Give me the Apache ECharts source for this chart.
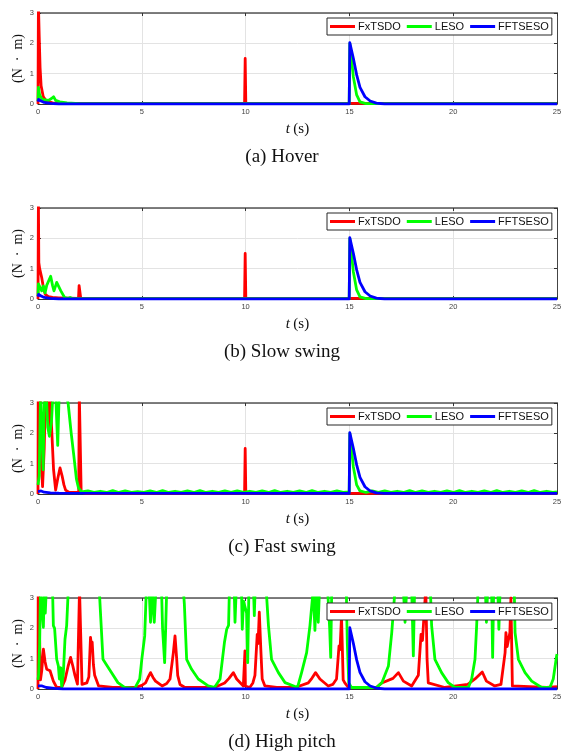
<!DOCTYPE html>
<html>
<head>
<meta charset="utf-8">
<script src="https://cdn.jsdelivr.net/npm/echarts@6/dist/echarts.min.js"></script>
<style>
html,body{margin:0;padding:0;background:#fff;}
#chart{width:564px;height:752px;}
</style>
</head>
<body>
<div id="chart"></div>
<script>
// ---------------- data ----------------
const seriesNames = ['FxTSDO', 'LESO', 'FFTSESO'];
const panelCaptions = ['(a) Hover', '(b) Slow swing', '(c) Fast swing', '(d) High pitch'];
const xLabelName = 't (s)';
const yLabelName = '(N · m)';
const xRange = [0, 25];
const yRange = [0, 3];

// (a) Hover
const hoverFx = [[0,0],[0.02,3.3],[0.06,2.2],[0.1,1.2],[0.15,0.6],[0.25,0.25],[0.4,0.1],[0.7,0.04],[1.2,0.02],[1.98,0.02],[2.0,0.05],[2.04,0.02],[2.66,0.02],[2.68,0.05],[2.72,0.02],[9.95,0.02],[9.98,1.5],[10.01,0.02],[25,0.02]];
const hoverLeso = [[0,0.1],[0.02,0.55],[0.08,0.3],[0.2,0.15],[0.5,0.12],[0.65,0.18],[0.75,0.24],[0.85,0.12],[1.05,0.07],[1.4,0.04],[2,0.01],[14.99,0.01],[15.02,2.0],[15.19,0.9],[15.35,0.3],[15.51,0.07],[15.8,0.01],[25,0.01]];
const hoverFf = [[0,0.08],[0.03,0.15],[0.15,0.1],[0.3,0.05],[0.6,0.02],[1.0,0],[14.99,0],[15.02,2.02],[15.19,1.51],[15.35,0.96],[15.51,0.55],[15.75,0.24],[16.0,0.1],[16.3,0.03],[16.7,0],[25,0]];

// (b) Slow swing
const slowFx = [[0,0],[0.02,3.3],[0.04,1.2],[0.08,1.0],[0.18,0.7],[0.26,0.38],[0.35,0.15],[0.5,0.08],[0.7,0.05],[1.0,0.04],[1.95,0.02],[1.98,0.44],[2.03,0.44],[2.06,0.02],[9.95,0.02],[9.98,1.5],[10.01,0.02],[25,0.02]];
const slowLeso = [[0,0.1],[0.02,0.5],[0.1,0.55],[0.18,0.27],[0.26,0.43],[0.34,0.2],[0.42,0.45],[0.5,0.5],[0.61,0.75],[0.7,0.45],[0.77,0.27],[0.9,0.55],[1.1,0.27],[1.28,0.05],[1.45,0.02],[1.55,0.05],[1.7,0.01],[14.99,0.01],[15.02,2.0],[15.19,0.9],[15.35,0.3],[15.51,0.07],[15.8,0.01],[25,0.01]];
const slowFf = [[0,0.08],[0.03,0.15],[0.15,0.1],[0.3,0.05],[0.6,0.02],[1.0,0],[14.99,0],[15.02,2.02],[15.19,1.51],[15.35,0.96],[15.51,0.55],[15.75,0.24],[16.0,0.1],[16.3,0.03],[16.7,0],[25,0]];

// (c) Fast swing
const fastFx = [[0,0],[0.01,3.3],[0.03,1.0],[0.1,3.3],[0.16,1.0],[0.22,0.24],[0.3,1.5],[0.36,3.3],[0.48,3.3],[0.55,2.0],[0.58,3.3],[0.66,3.3],[0.75,0.8],[0.85,0.13],[0.95,0.5],[1.06,0.86],[1.16,0.6],[1.25,0.3],[1.33,0.13],[1.5,0.05],[1.96,0.05],[1.99,3.3],[2.05,3.3],[2.08,0.05],[2.3,0.02],[9.95,0.02],[9.98,1.5],[10.01,0.02],[25,0.02]];
const fastLeso = [[0,0.3],[0.06,0.6],[0.12,3.3],[0.2,3.3],[0.25,0.8],[0.3,3.3],[0.4,3.3],[0.47,2.2],[0.55,1.9],[0.65,2.4],[0.72,3.3],[0.85,3.3],[0.95,1.6],[1.02,3.3],[1.35,3.3],[1.45,3.0],[1.6,2.0],[1.72,1.3],[1.85,0.5],[1.95,0.2],[2.1,0.07],
  [2.4,0.1],[2.7,0.05],[3.0,0.09],[3.3,0.05],[3.6,0.11],[3.9,0.05],[4.2,0.1],[4.5,0.05],[4.8,0.08],[5.1,0.05],[5.4,0.1],[5.7,0.05],[6.0,0.11],[6.3,0.05],[6.6,0.09],[6.9,0.05],[7.2,0.1],[7.5,0.05],[7.8,0.11],[8.1,0.05],[8.4,0.09],[8.7,0.05],[9.0,0.1],[9.3,0.05],[9.6,0.1],[9.9,0.05],[10.2,0.09],[10.5,0.05],[10.8,0.1],[11.1,0.05],[11.4,0.11],[11.7,0.05],[12.0,0.09],[12.3,0.05],[12.6,0.1],[12.9,0.05],[13.2,0.11],[13.5,0.05],[13.8,0.09],[14.1,0.05],[14.4,0.1],[14.7,0.05],[14.99,0.07],
  [15.02,2.0],[15.19,0.9],[15.35,0.3],[15.51,0.1],[15.8,0.05],[16.1,0.1],[16.4,0.05],[16.7,0.1],[17.0,0.05],[17.3,0.09],[17.6,0.05],[17.9,0.11],[18.2,0.05],[18.5,0.1],[18.8,0.05],[19.1,0.09],[19.4,0.05],[19.7,0.1],[20.0,0.05],[20.3,0.11],[20.6,0.05],[20.9,0.09],[21.2,0.05],[21.5,0.1],[21.8,0.05],[22.1,0.11],[22.4,0.05],[22.7,0.09],[23.0,0.05],[23.3,0.1],[23.6,0.05],[23.9,0.11],[24.2,0.05],[24.5,0.09],[24.8,0.05],[25,0.07]];
const fastFf = [[0,0.08],[0.03,0.14],[0.15,0.1],[0.3,0.06],[0.6,0.04],[1.0,0.03],[14.99,0.02],[15.02,2.02],[15.19,1.51],[15.35,0.96],[15.51,0.55],[15.75,0.24],[16.0,0.1],[16.3,0.04],[16.7,0.02],[25,0.02]];

// (d) High pitch
const pitchFx = [[0,0],[0.01,3.3],[0.05,3.3],[0.08,1.6],[0.12,0.3],[0.18,0.6],[0.26,1.31],[0.34,0.9],[0.42,0.65],[0.58,0.6],[0.74,0.26],[0.9,0.05],[1.14,0.05],[1.3,0.3],[1.45,0.75],[1.57,1.04],[1.68,0.75],[1.78,0.45],[1.9,0.16],[1.97,0.2],[2.0,3.3],[2.08,3.3],[2.12,0.15],[2.2,0.1],[2.35,0.2],[2.45,0.4],[2.53,1.7],[2.57,1.45],[2.61,1.55],[2.67,0.8],[2.73,0.45],[2.92,0.1],[3.6,0.05],[4.7,0.05],[5.0,0.12],[5.18,0.2],[5.3,0.38],[5.42,0.54],[5.54,0.38],[5.66,0.26],[5.98,0.1],[6.2,0.18],[6.36,0.33],[6.52,1.2],[6.6,1.75],[6.64,1.8],[6.68,1.0],[6.73,0.45],[6.84,0.15],[7.08,0.05],[8.5,0.05],[8.99,0.2],[9.2,0.35],[9.41,0.54],[9.57,0.33],[9.89,0.1],[9.95,0.1],[9.97,1.26],[9.99,0.1],[10.2,0.05],[10.35,0.2],[10.45,0.45],[10.56,1.8],[10.6,1.5],[10.66,2.53],[10.74,1.2],[10.8,0.33],[10.93,0.1],[11.5,0.05],[12.4,0.05],[13.02,0.2],[13.2,0.36],[13.37,0.54],[13.58,0.33],[13.98,0.1],[14.2,0.15],[14.38,0.33],[14.5,1.42],[14.55,1.3],[14.62,2.4],[14.7,0.3],[14.78,0.2],[14.95,0.05],[16.3,0.05],[16.56,0.2],[17.1,0.35],[17.36,0.54],[17.6,0.26],[18.0,0.1],[18.32,0.45],[18.45,1.8],[18.52,1.6],[18.6,2.5],[18.68,3.3],[18.74,1.0],[18.8,0.2],[19.6,0.05],[20.7,0.15],[21.05,0.33],[21.4,0.56],[21.6,0.26],[22.0,0.1],[22.3,0.15],[22.5,1.2],[22.54,1.86],[22.6,1.4],[22.73,1.86],[22.78,3.0],[22.85,0.1],[24.5,0.05],[25,0.08]];
const pitchLeso = [[0,0.3],[0.03,0.48],[0.08,1.5],[0.12,3.3],[0.2,3.3],[0.26,2.03],[0.3,3.3],[0.35,2.5],[0.4,3.3],[0.7,3.3],[0.74,2.09],[0.8,2.0],[0.9,0.98],[0.98,0.76],[1.03,0.33],[1.1,0.7],[1.14,0.05],[1.22,0.5],[1.3,1.64],[1.38,2.09],[1.46,3.3],[2.95,3.3],[3.0,2.64],[3.13,0.98],[3.29,0.81],[3.53,0.55],[3.85,0.21],[4.17,0.05],[4.66,0.02],[4.9,0.33],[5.0,0.98],[5.14,1.75],[5.22,3.3],[5.35,3.3],[5.42,2.2],[5.5,3.3],[5.6,2.2],[5.68,3.3],[5.95,3.3],[6.0,2.0],[6.05,2.0],[6.1,0.87],[6.15,2.0],[6.2,3.3],[7.0,3.3],[7.05,2.8],[7.16,0.98],[7.4,0.65],[7.72,0.33],[8.2,0.1],[8.5,0.05],[8.77,0.33],[8.98,1.53],[9.09,1.97],[9.18,2.1],[9.22,3.3],[9.45,3.3],[9.49,2.2],[9.55,3.3],[9.8,3.3],[9.84,1.97],[9.9,2.9],[10.05,2.5],[10.1,0.87],[10.16,3.3],[10.38,3.3],[10.42,2.42],[10.46,3.3],[10.99,3.3],[11.1,2.1],[11.25,0.98],[11.58,0.54],[11.9,0.21],[12.5,0.05],[12.7,0.55],[12.94,1.2],[13.1,2.09],[13.26,3.3],[13.3,3.3],[13.34,1.93],[13.4,3.3],[13.45,3.3],[13.5,2.2],[13.56,3.3],[13.95,3.3],[14.05,2.0],[14.1,1.04],[14.15,3.3],[14.85,3.3],[14.9,1.5],[14.97,0.2],[15.1,0.05],[16.3,0.05],[16.56,0.2],[16.88,0.76],[17.04,1.86],[17.2,3.3],[17.6,3.3],[17.68,2.2],[17.76,3.3],[18.0,3.3],[18.08,1.09],[18.14,3.3],[18.9,3.3],[18.96,2.1],[19.12,0.98],[19.44,0.54],[19.76,0.21],[20.08,0.05],[20.73,0.05],[20.89,0.33],[21.05,0.98],[21.13,2.09],[21.2,3.3],[21.55,3.3],[21.6,2.2],[21.66,3.3],[21.85,3.3],[21.9,1.04],[21.95,3.3],[22.15,3.3],[22.2,1.97],[22.26,3.3],[22.94,3.3],[22.98,1.86],[23.14,0.98],[23.46,0.54],[23.78,0.26],[24.26,0.05],[24.66,0.05],[24.82,0.33],[24.98,1.09],[25,1.15]];
const pitchFf = [[0,0.1],[0.03,0.15],[0.2,0.1],[0.4,0.05],[0.8,0.02],[1.2,0],[14.99,0],[15.02,2.02],[15.19,1.51],[15.35,0.96],[15.51,0.55],[15.75,0.24],[16.0,0.1],[16.3,0.03],[16.7,0],[25,0]];

const panelData = [
  [hoverFx, hoverLeso, hoverFf],
  [slowFx, slowLeso, slowFf],
  [fastFx, fastLeso, fastFf],
  [pitchFx, pitchLeso, pitchFf]
];
// ---------------- layout / style ----------------
const colors = ['#ff0000', '#00ff00', '#0000ff'];
const PLOT_LEFT = 38, PLOT_RIGHT = 7, PLOT_H = 91, FIRST_TOP = 13, STEP = 195;
const serif = "'Liberation Serif','Times New Roman',serif";
const sans = "'Liberation Sans',Arial,Helvetica,sans-serif";

const grids = [], xAxes = [], yAxes = [], series = [], legends = [], graphics = [];
for (let p = 0; p < 4; p++) {
  const top = FIRST_TOP + STEP * p;
  grids.push({left: PLOT_LEFT, right: PLOT_RIGHT, top: top, height: PLOT_H, show: false,
    containLabel: false, outerBoundsMode: 'none'});
  xAxes.push({
    type: 'value', gridIndex: p, min: xRange[0], max: xRange[1], interval: 5, position: 'bottom',
    axisLine: {show: true, onZero: false, lineStyle: {color: '#333', width: 1}},
    axisTick: {show: true, inside: true, length: 3, lineStyle: {color: '#333'}},
    axisLabel: {fontSize: 7.5, color: '#444', fontFamily: sans, margin: 4},
    splitLine: {show: true, lineStyle: {color: '#e3e3e3', width: 1}},
    name: '{i|t} {n|(s)}', nameLocation: 'middle', nameGap: 18,
    nameTextStyle: {rich: {i: {fontFamily: serif, fontStyle: 'italic', fontSize: 15, color: '#111'}, n: {fontFamily: serif, fontSize: 15, color: '#111'}}}
  });
  xAxes.push({
    type: 'value', gridIndex: p, min: xRange[0], max: xRange[1], interval: 5, position: 'top',
    axisLine: {show: true, onZero: false, lineStyle: {color: '#555', width: 1.6}},
    axisTick: {show: true, inside: true, length: 3, lineStyle: {color: '#333'}},
    axisLabel: {show: false}, splitLine: {show: false}
  });
  yAxes.push({
    type: 'value', gridIndex: p, min: yRange[0], max: yRange[1], interval: 1, position: 'left',
    axisLine: {show: true, onZero: false, lineStyle: {color: '#111', width: 1}},
    axisTick: {show: true, inside: true, length: 3, lineStyle: {color: '#333'}},
    axisLabel: {fontSize: 7.5, color: '#444', fontFamily: sans, margin: 4},
    splitLine: {show: true, lineStyle: {color: '#e3e3e3', width: 1}},
    name: yLabelName.replace(/ /g, '\u2002'), nameLocation: 'middle', nameGap: 13, nameRotate: 90,
    nameMoveOverlap: false,
    nameTextStyle: {fontFamily: serif, fontSize: 14, color: '#111'}
  });
  yAxes.push({
    type: 'value', gridIndex: p, min: yRange[0], max: yRange[1], interval: 1, position: 'right',
    axisLine: {show: true, onZero: false, lineStyle: {color: '#444', width: 1}},
    axisTick: {show: true, inside: true, length: 3, lineStyle: {color: '#333'}},
    axisLabel: {show: false}, splitLine: {show: false}
  });
  for (let s = 0; s < 3; s++) {
    series.push({
      name: seriesNames[s], type: 'line', xAxisIndex: 2 * p, yAxisIndex: 2 * p,
      data: panelData[p][s], showSymbol: false, symbol: 'none', animation: false,
      clip: true, z: 2,
      lineStyle: {color: colors[s], width: 2.8, join: 'round'},
      itemStyle: {color: colors[s]}
    });
  }
  legends.push({
    data: seriesNames, left: 327, top: top + 5, orient: 'horizontal', z: 20,
    icon: 'rect', itemWidth: 25, itemHeight: 3, itemGap: 6,
    selectedMode: false, backgroundColor: '#fff', borderColor: '#262626', borderWidth: 1,
    padding: [3, 3, 3, 3],
    textStyle: {fontFamily: sans, fontSize: 11, color: '#111', padding: [0, 0, 0, -2]}
  });
  graphics.push({
    type: 'text', left: 'center', top: top + 135,
    style: {text: panelCaptions[p], font: '19px ' + serif, fill: '#111'}
  });
}

const chart = echarts.init(document.getElementById('chart'), null, {renderer: 'canvas'});
chart.setOption({
  animation: false,
  backgroundColor: '#fff',
  grid: grids, xAxis: xAxes, yAxis: yAxes, series: series, legend: legends, graphic: graphics
});
</script>
</body>
</html>
